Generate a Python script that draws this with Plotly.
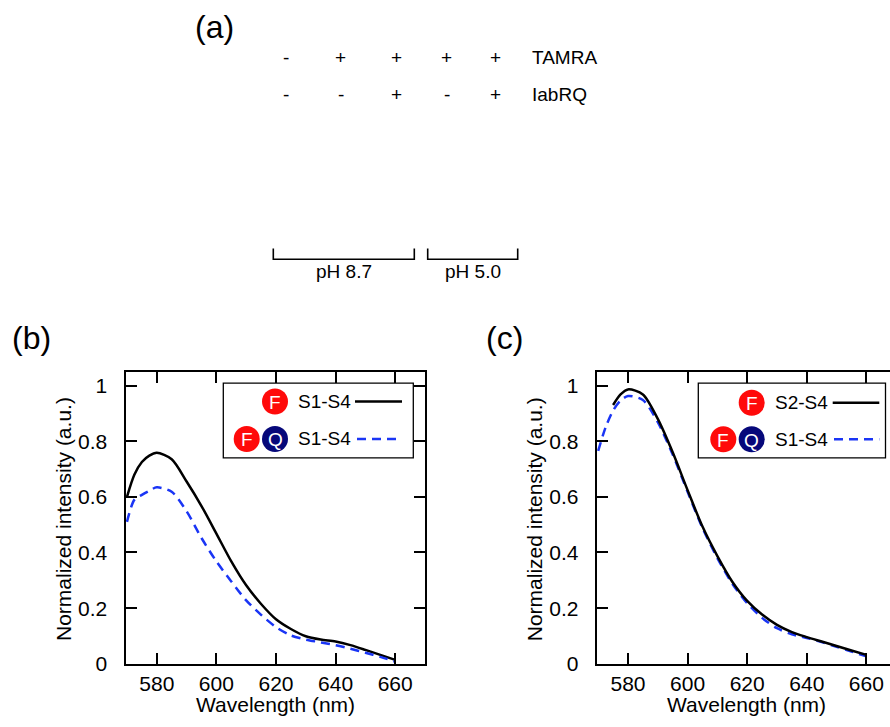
import plotly.graph_objects as go

# ---------------- data ----------------
wl_b = [570, 572.5, 575, 577.5, 580, 585, 590, 595, 600, 605, 610, 615, 620, 625, 630, 635, 640, 645, 650, 655, 660]
b_F_S1S4 = [0.60, 0.68, 0.725, 0.748, 0.758, 0.735, 0.655, 0.567, 0.468, 0.368, 0.282, 0.215, 0.16, 0.125, 0.099, 0.087, 0.08, 0.067, 0.05, 0.032, 0.014]
b_FQ_S1S4 = [0.51, 0.59, 0.607, 0.622, 0.634, 0.618, 0.548, 0.452, 0.368, 0.296, 0.228, 0.176, 0.132, 0.102, 0.087, 0.077, 0.067, 0.054, 0.04, 0.025, 0.008]

wl_c_F = [575, 577.5, 580, 585, 590, 595, 600, 605, 610, 615, 620, 625, 630, 635, 640, 645, 650, 655, 660]
c_F_S2S4 = [0.93, 0.968, 0.986, 0.968, 0.88, 0.76, 0.624, 0.493, 0.387, 0.295, 0.226, 0.177, 0.14, 0.114, 0.096, 0.08, 0.064, 0.048, 0.032]
wl_c_FQ = [570, 572.5, 575, 577.5, 580, 585, 590, 595, 600, 605, 610, 615, 620, 625, 630, 635, 640, 645, 650, 655, 660]
c_FQ_S1S4 = [0.765, 0.85, 0.91, 0.946, 0.962, 0.948, 0.868, 0.752, 0.618, 0.488, 0.38, 0.288, 0.218, 0.165, 0.128, 0.106, 0.093, 0.078, 0.061, 0.044, 0.027]

x_ticks = [580, 600, 620, 640, 660]
y_ticks = [0, 0.2, 0.4, 0.6, 0.8, 1]
lane_tamra = ["-", "+", "+", "+", "+"]
lane_iabrq = ["-", "-", "+", "-", "+"]
ph_labels = ["pH 8.7", "pH 5.0"]

# ---------------- layout helpers ----------------
W, H = 890, 727
FONT = "Liberation Sans, Arial, sans-serif"
BLUE = "#1a35f5"
RED = "#ff0a0a"
NAVY = "#06087a"
PXNM = 2.98  # pixels per nm in both panels


def px(x):
    return x / W


def py(y):
    return 1 - y / H


fig = go.Figure()

fig.add_trace(go.Scatter(x=wl_b, y=b_F_S1S4, mode="lines", xaxis="x", yaxis="y",
                         line=dict(color="black", width=2.5, shape="spline", smoothing=0.8), showlegend=False))
fig.add_trace(go.Scatter(x=wl_b, y=b_FQ_S1S4, mode="lines", xaxis="x", yaxis="y",
                         line=dict(color=BLUE, width=2.5, dash="9px,6px", shape="spline", smoothing=0.8), showlegend=False))
fig.add_trace(go.Scatter(x=wl_c_FQ, y=c_FQ_S1S4, mode="lines", xaxis="x2", yaxis="y2",
                         line=dict(color=BLUE, width=2.5, dash="9px,6px", shape="spline", smoothing=0.8), showlegend=False))
fig.add_trace(go.Scatter(x=wl_c_F, y=c_F_S2S4, mode="lines", xaxis="x2", yaxis="y2",
                         line=dict(color="black", width=2.5, shape="spline", smoothing=0.8), showlegend=False))

Y_BOT, Y_TOP = 674, 377.3
ydom = [py(Y_BOT), py(Y_TOP)]
axis_common = dict(showline=True, linecolor="black", linewidth=2, mirror="ticks",
                   ticks="inside", ticklen=11, tickwidth=2, tickcolor="black",
                   showgrid=False, zeroline=False,
                   tickfont=dict(family=FONT, size=21, color="black"))

xcommon = dict(axis_common, tickvals=x_ticks)
ycommon = dict(axis_common, range=[0, 1.05], tickvals=y_ticks, ticklabelstandoff=12)

B_L, B_R = 125.5, 425.0
C_L = 596.7
fig.update_layout(
    xaxis=dict(xcommon, domain=[px(B_L), px(B_R)], range=[569.5, 569.5 + (B_R - B_L) / PXNM], anchor="y"),
    yaxis=dict(ycommon, domain=ydom, anchor="x"),
    xaxis2=dict(xcommon, domain=[px(C_L), 1.0], range=[569.5, 569.5 + (W - C_L) / PXNM], anchor="y2"),
    yaxis2=dict(ycommon, domain=ydom, anchor="x2", mirror=False),
)

shapes = []
ann = []


def text(x, y, s, size=19, color="black", xanchor="center", angle=0):
    ann.append(dict(x=px(x), y=py(y), xref="paper", yref="paper", text=s, showarrow=False, textangle=angle,
                    xanchor=xanchor, yanchor="middle", font=dict(family=FONT, size=size, color=color)))


def circle(x, y, letter, fill):
    shapes.append(dict(type="circle", xref="paper", yref="paper", xsizemode="pixel", ysizemode="pixel",
                       xanchor=px(x), yanchor=py(y), x0=-13, x1=13, y0=-13, y1=13,
                       fillcolor=fill, line=dict(width=0)))
    text(x, y + 1, letter, size=19, color="white")


def legend_box(x0, x1, rows):
    shapes.append(dict(type="rect", xref="paper", yref="paper", x0=px(x0), x1=px(x1), y0=py(465), y1=py(389),
                       line=dict(color="black", width=1.3), fillcolor="white", layer="above"))
    for r in rows:
        yy, circles, label, tx, lx0, lx1, color, dash = r
        for cx, letter, fill in circles:
            circle(cx, yy, letter, fill)
        text(tx, yy, label, size=19, xanchor="left")
        shapes.append(dict(type="line", xref="paper", yref="paper", x0=px(lx0), x1=px(lx1), y0=py(yy), y1=py(yy),
                           line=dict(color=color, width=2.5, dash=dash)))


legend_box(223.3, 413.3, [
    (407.7, [(275, "F", RED)], "S1-S4", 296, 355, 402, "black", "solid"),
    (445.7, [(246.7, "F", RED), (275, "Q", NAVY)], "S1-S4", 296, 357, 402, BLUE, "9px,6px"),
])
legend_box(698.3, 885.5, [
    (409, [(751.7, "F", RED)], "S2-S4", 772.7, 832.7, 879.3, "black", "solid"),
    (446, [(723.3, "F", RED), (751.7, "Q", NAVY)], "S1-S4", 772.7, 834, 879.3, BLUE, "9px,6px"),
])

# axis titles
for left in (B_L, C_L):
    text(left + (B_R - B_L) / 2, 715, "Wavelength (nm)", size=21)
    text(left - 62.5, 527, "Normalized intensity (a.u.)", size=21, angle=-90)

# panel labels
text(214.5, 27, "(a)", size=32)
text(31.7, 343, "(b)", size=32)
text(504.5, 343, "(c)", size=32)

# lane signs
lane_x = [286, 340.7, 396.7, 446.7, 495]
for lx, s in zip(lane_x, lane_tamra):
    text(lx, 58, s, size=19)
for lx, s in zip(lane_x, lane_iabrq):
    text(lx, 96, s, size=19)
text(530, 58, "TAMRA", size=19, xanchor="left")
text(530, 96, "IabRQ", size=19, xanchor="left")

# pH brackets
for (bx0, bx1), lab in zip([(273.3, 414.3), (427.7, 517.7)], ph_labels):
    shapes.append(dict(type="path", xref="paper", yref="paper",
                       path=f"M {px(bx0)},{py(252.3)} L {px(bx0)},{py(263.3)} L {px(bx1)},{py(263.3)} L {px(bx1)},{py(252.3)}",
                       line=dict(color="black", width=1.6)))
    text((bx0 + bx1) / 2, 276, lab, size=19)

fig.update_layout(
    width=W, height=H,
    margin=dict(l=0, r=0, t=0, b=0),
    paper_bgcolor="white", plot_bgcolor="white",
    shapes=shapes, annotations=ann, showlegend=False,
)

fig.write_html("out.html", config={"displayModeBar": False},
               post_script="document.body.style.margin='0';")
